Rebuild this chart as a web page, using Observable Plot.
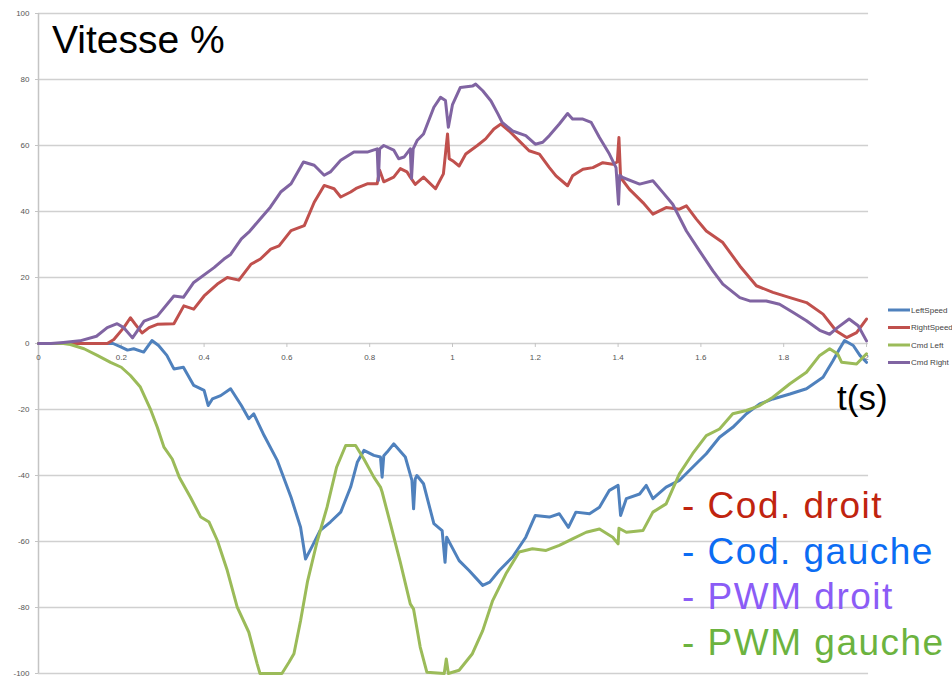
<!DOCTYPE html>
<html><head><meta charset="utf-8">
<script src="https://cdn.jsdelivr.net/npm/d3@7"></script>
<script src="https://cdn.jsdelivr.net/npm/@observablehq/plot@0.6"></script>
<style>
body{margin:0;background:#fff;}
#wrap{position:relative;width:952px;height:680px;overflow:hidden;}
</style></head><body><div id="wrap"></div>
<script>
// [t (s), value %]
const leftSpeed = [[0,0],[0.18,0],[0.2,-1.1],[0.215,-2],[0.23,-1.6],[0.254,-2.6],[0.274,0.9],[0.29,-0.6],[0.31,-3.6],[0.327,-7.7],[0.35,-7.2],[0.375,-12.7],[0.4,-14.2],[0.41,-18.8],[0.42,-16.8],[0.44,-15.8],[0.464,-13.7],[0.49,-18.8],[0.508,-22.8],[0.52,-21.3],[0.545,-27.9],[0.577,-35.5],[0.61,-46.6],[0.633,-55.7],[0.645,-65.3],[0.66,-61.7],[0.68,-56.7],[0.705,-54.1],[0.73,-51.1],[0.754,-43.5],[0.77,-36],[0.786,-32.4],[0.81,-33.9],[0.826,-34.4],[0.83,-40.5],[0.834,-34],[0.842,-32.9],[0.858,-30.4],[0.886,-34.4],[0.902,-41.5],[0.906,-50.1],[0.91,-41],[0.914,-40],[0.93,-42.5],[0.955,-54.6],[0.975,-56.7],[0.982,-66.3],[0.986,-58.7],[1.0,-62],[1.016,-65.8],[1.04,-68.8],[1.073,-73.3],[1.09,-72.3],[1.113,-68.8],[1.145,-64.7],[1.177,-58.7],[1.2,-52.1],[1.234,-52.6],[1.258,-51.6],[1.28,-55.7],[1.298,-51.1],[1.331,-51.6],[1.355,-49.6],[1.379,-44.5],[1.4,-43],[1.406,-52.1],[1.42,-47],[1.452,-45.6],[1.468,-43],[1.484,-47],[1.516,-43.5],[1.548,-41.5],[1.58,-37.5],[1.613,-33.4],[1.645,-28.4],[1.677,-25.4],[1.71,-21.3],[1.742,-18.3],[1.774,-16.8],[1.815,-15.3],[1.855,-13.7],[1.895,-10.2],[1.919,-5.2],[1.935,-1.6],[1.947,0.9],[1.968,-0.6],[1.984,-3.6],[2.0,-5.7]];
const rightSpeed = [[0,0],[0.166,0],[0.182,1.2],[0.206,4.8],[0.222,7.8],[0.234,5.8],[0.25,3.2],[0.267,4.8],[0.287,5.8],[0.327,6],[0.351,11.4],[0.375,10.4],[0.4,14.4],[0.432,18],[0.456,20],[0.484,19.2],[0.513,24],[0.536,25.6],[0.561,28.6],[0.581,29.6],[0.61,34.2],[0.642,35.7],[0.666,42.8],[0.69,47.9],[0.714,46.9],[0.73,44.4],[0.754,45.9],[0.767,47],[0.794,48.4],[0.818,48.4],[0.824,52.5],[0.834,49],[0.858,50.4],[0.874,53],[0.89,52],[0.898,50.4],[0.91,48.2],[0.93,50.4],[0.959,46.9],[0.978,51.4],[0.988,63.5],[0.992,56],[1.0,55.4],[1.016,53.8],[1.032,57.4],[1.06,60],[1.08,62],[1.1,65],[1.117,66.5],[1.137,64.4],[1.161,61.4],[1.185,58.4],[1.21,57.4],[1.234,53.3],[1.25,50.8],[1.278,47.8],[1.29,50.8],[1.315,52.8],[1.339,53.3],[1.363,54.8],[1.387,54.3],[1.398,55],[1.402,62.4],[1.406,50.3],[1.427,46.8],[1.46,42.7],[1.484,39.2],[1.516,41.2],[1.548,40.7],[1.565,41.7],[1.589,37.7],[1.613,34.1],[1.653,30.6],[1.694,23.5],[1.734,17.5],[1.774,15.5],[1.815,13.9],[1.855,12.4],[1.895,8.9],[1.927,3.8],[1.952,1.8],[1.976,3.3],[2.0,7.4]];
const cmdLeft = [[0,0],[0.06,0],[0.077,-0.3],[0.11,-1.6],[0.142,-3.6],[0.174,-5.7],[0.2,-7.2],[0.222,-9.7],[0.246,-13.2],[0.27,-19.8],[0.287,-25.4],[0.303,-31.4],[0.323,-35],[0.34,-40.5],[0.367,-46.6],[0.392,-52.6],[0.412,-54.1],[0.432,-59.7],[0.456,-68.8],[0.48,-79.9],[0.508,-87.5],[0.528,-97],[0.535,-100],[0.588,-100],[0.605,-96.6],[0.617,-94],[0.633,-84],[0.65,-72],[0.673,-60],[0.697,-49.6],[0.72,-37.5],[0.742,-30.9],[0.766,-30.9],[0.786,-35],[0.81,-40.5],[0.826,-43.5],[0.83,-45],[0.85,-54.6],[0.874,-66.3],[0.898,-78.9],[0.906,-80.5],[0.922,-92],[0.938,-99.6],[0.98,-100],[0.985,-95.6],[0.99,-100],[1.016,-99],[1.048,-94],[1.073,-87],[1.097,-77.9],[1.129,-69.8],[1.161,-63.2],[1.193,-62.2],[1.226,-62.7],[1.258,-61.2],[1.29,-59.2],[1.323,-57.2],[1.355,-56.2],[1.387,-58.7],[1.4,-60.7],[1.402,-56],[1.42,-57.2],[1.46,-56.7],[1.484,-51.1],[1.516,-48.6],[1.548,-39.5],[1.58,-33.4],[1.613,-27.9],[1.645,-25.9],[1.677,-21.3],[1.71,-20.3],[1.742,-18.8],[1.774,-16.3],[1.815,-12.2],[1.855,-8.7],[1.887,-3.6],[1.911,-1.6],[1.93,-3.1],[1.94,-5.7],[1.976,-6.2],[2.0,-3.1]];
const cmdRight = [[0,0],[0.03,0],[0.06,0.3],[0.1,0.8],[0.14,2.2],[0.166,4.8],[0.19,6],[0.206,4.8],[0.227,1.7],[0.255,6.8],[0.287,8.3],[0.327,14.4],[0.35,14],[0.375,18.5],[0.424,23],[0.448,25.6],[0.464,27],[0.49,31.7],[0.51,34],[0.536,37.8],[0.56,41.3],[0.585,45.9],[0.61,48.4],[0.64,55],[0.666,54],[0.69,51],[0.705,52],[0.73,55.5],[0.762,58],[0.794,58],[0.818,59],[0.821,49.4],[0.824,59],[0.834,60],[0.858,58.6],[0.87,56],[0.883,56.5],[0.898,59],[0.901,50],[0.905,59],[0.915,61.6],[0.93,63.5],[0.955,71.6],[0.971,74.6],[0.983,73.6],[0.99,65.5],[1.0,72.4],[1.019,77.6],[1.048,78],[1.056,78.6],[1.073,76.6],[1.093,73.5],[1.11,69.5],[1.12,67],[1.145,64.4],[1.177,63],[1.2,60.4],[1.218,61],[1.234,63],[1.258,66.5],[1.278,69.7],[1.29,68],[1.315,68],[1.335,67],[1.355,62.4],[1.379,57.4],[1.395,53.3],[1.401,42.2],[1.404,51],[1.411,50.3],[1.452,48.3],[1.484,49.3],[1.508,45.8],[1.532,42.2],[1.565,34.1],[1.597,28],[1.629,22],[1.653,18],[1.694,13.9],[1.718,12.9],[1.758,12.9],[1.79,11.9],[1.823,9.4],[1.855,6.9],[1.887,4],[1.911,2.8],[1.93,4.8],[1.958,7.4],[1.98,5.4],[2.0,0.8]];

const seriesNames = ["LeftSpeed", "RightSpeed", "Cmd Left", "Cmd Right"];
const seriesColors = ["#4F81BD", "#C0504D", "#9BBB59", "#8064A2"];
const seriesData = [leftSpeed, rightSpeed, cmdLeft, cmdRight];
const xTicks = [0, 0.2, 0.4, 0.6, 0.8, 1, 1.2, 1.4, 1.6, 1.8, 2];
const yTicks = [-100, -80, -60, -40, -20, 0, 20, 40, 60, 80, 100];
const notes = ["- Cod. droit", "- Cod. gauche", "- PWM droit", "- PWM gauche"];
const noteColors = ["#c0240f", "#0b6cf3", "#8b5cf6", "#6cb33f"];

const rows = seriesData.flatMap((s, i) => s.map(([t, v]) => ({t, v, series: seriesNames[i]})));

const chart = Plot.plot({
  width: 952, height: 680,
  marginLeft: 38, marginRight: 86, marginTop: 13, marginBottom: 7,
  style: {fontFamily: "'Liberation Sans', Arial, sans-serif", background: "#fff", overflow: "visible"},
  x: {domain: [0, 2], axis: null},
  y: {domain: [-100, 100], axis: null},
  color: {domain: seriesNames, range: seriesColors},
  marks: [
    Plot.ruleY(yTicks, {stroke: "#d0d0d0", strokeWidth: 1.5, x1: 0, x2: 2.005}),
    Plot.axisY({ticks: yTicks, tickSize: 3, tickPadding: 6, fontSize: 8, stroke: "#c4c4c4", fill: "#555", label: null, tickFormat: d => String(d)}),
    Plot.ruleX([0], {stroke: "#c4c4c4", strokeWidth: 1.5}),
    Plot.ruleX(xTicks, {y1: 0, y2: -1.2, stroke: "#c4c4c4"}),
    Plot.text(xTicks, {x: d => d, y: 0, dy: 14, text: d => String(d), fontSize: 8, fill: "#555"}),
    Plot.line(rows, {x: "t", y: "v", z: "series", stroke: "series", strokeWidth: 3, strokeLinejoin: "round", strokeLinecap: "round"})
  ]
});
document.getElementById("wrap").appendChild(chart);

const svg = d3.select(chart);
const ff = "'Liberation Sans', Arial, Helvetica, sans-serif";
const ann = svg.append("g").attr("text-anchor", "start");
ann.append("text").attr("x", 52).attr("y", 53).attr("font-size", 39).attr("font-family", ff).attr("fill", "#000").text("Vitesse %");
ann.append("text").attr("x", 837).attr("y", 410).attr("font-size", 35).attr("font-family", ff).attr("fill", "#000").text("t(s)");
notes.forEach((n, i) => {
  ann.append("text").attr("x", 682).attr("y", 518 + i * 45.5).attr("font-size", 37)
    .attr("letter-spacing", 1.5).attr("font-family", ff).attr("fill", noteColors[i]).text(n);
});
seriesNames.forEach((n, i) => {
  const y = 310 + i * 17.5;
  ann.append("line").attr("x1", 888).attr("x2", 910).attr("y1", y).attr("y2", y)
    .attr("stroke", seriesColors[i]).attr("stroke-width", 3);
  ann.append("text").attr("x", 911).attr("y", y).attr("dy", "0.35em").attr("font-size", 8)
    .attr("font-family", ff).attr("fill", "#444").text(n);
});
</script></body></html>
